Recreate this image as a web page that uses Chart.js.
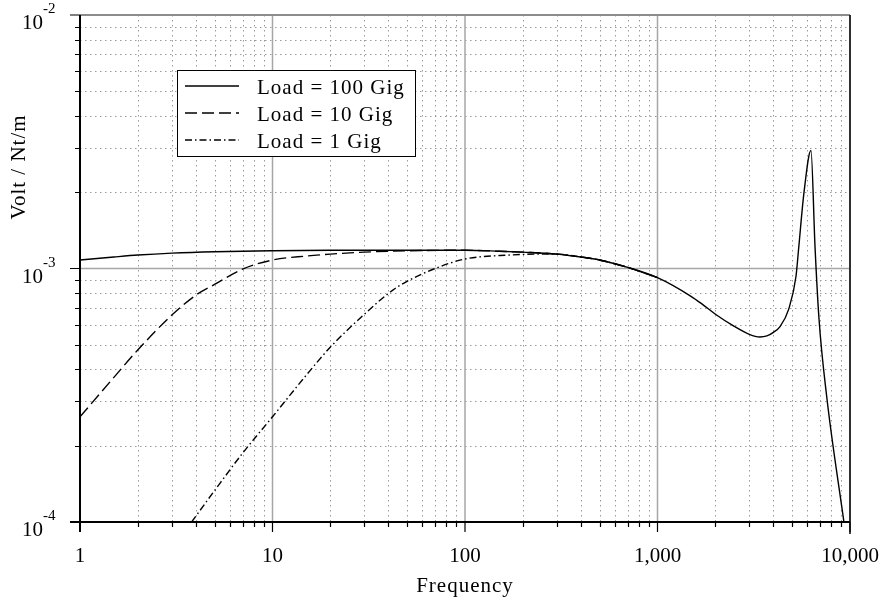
<!DOCTYPE html>
<html lang="en">
<head>
    <meta charset="UTF-8">
    <title>Volt / Nt/m vs Frequency</title>
    <script src="https://cdn.jsdelivr.net/npm/chart.js"></script>
    <style>
        html, body { margin: 0; padding: 0; background: #fff; }
        #wrap { width: 886px; height: 598px; }
    </style>
</head>
<body>
<div id="wrap"><canvas id="respChart" width="886" height="598"></canvas></div>
<script>
    // Load = 100 Gig
    const freq100 = [1, 1.5, 2, 3, 5, 10, 20, 50, 100, 150, 200, 300, 400, 500, 700, 1000, 1500, 1700, 2000, 2470, 3000, 3400, 3700, 4000, 4330, 4800, 5240, 5400, 5770, 6270, 6580, 6900, 7570, 9300];
    const volt100 = [1.08e-3, 1.11e-3, 1.13e-3, 1.15e-3, 1.165e-3, 1.175e-3, 1.18e-3, 1.18e-3, 1.18e-3, 1.17e-3, 1.16e-3, 1.14e-3, 1.11e-3, 1.08e-3, 1.01e-3, 9.2e-4, 7.75e-4, 7.25e-4, 6.6e-4, 5.95e-4, 5.5e-4, 5.37e-4, 5.42e-4, 5.6e-4, 5.9e-4, 6.9e-4, 9.3e-4, 1.18e-3, 2.0e-3, 2.92e-3, 1.22e-3, 6.35e-4, 3.12e-4, 1.0e-4];

    // Load = 10 Gig
    const freq10 = [1, 1.5, 2, 3, 4, 5, 7, 10, 15, 20, 30, 50, 100, 150, 200, 300, 400, 500, 700, 1000];
    const volt10 = [2.6e-4, 3.72e-4, 4.78e-4, 6.55e-4, 7.85e-4, 8.65e-4, 9.95e-4, 1.08e-3, 1.12e-3, 1.14e-3, 1.16e-3, 1.175e-3, 1.18e-3, 1.17e-3, 1.16e-3, 1.14e-3, 1.11e-3, 1.08e-3, 1.01e-3, 9.2e-4];

    // Load = 1 Gig
    const freq1 = [3.8, 5, 7, 10, 15, 20, 30, 42, 50, 70, 100, 170, 250, 300, 400, 500, 700, 1000];
    const volt1 = [1.0e-4, 1.33e-4, 1.87e-4, 2.6e-4, 3.8e-4, 4.9e-4, 6.6e-4, 8.2e-4, 8.9e-4, 1.0e-3, 1.09e-3, 1.13e-3, 1.14e-3, 1.14e-3, 1.11e-3, 1.08e-3, 1.01e-3, 9.2e-4];

    const seriesNames = ['Load = 100 Gig', 'Load = 10 Gig', 'Load = 1 Gig'];
    const xTickValues = [1, 10, 100, 1000, 10000];
    const xTickLabels = ['1', '10', '100', '1,000', '10,000'];
    const yTickValues = [1e-4, 1e-3, 1e-2];
    const yTickExps = ['-4', '-3', '-2'];

    const FONT = '"Liberation Serif", "Times New Roman", serif';
    const dashes = [[], [12, 5], [7, 3, 1.5, 3]];

    function toPoints(xs, ys) {
        return xs.map((f, i) => ({ x: f, y: ys[i] }));
    }

    // grid, axes, labels and legend drawn off the chart's own scales
    const paperPlugin = {
        id: 'paper',
        beforeDatasetsDraw(chart) {
            const { ctx, chartArea: a, scales: { x, y } } = chart;
            ctx.save();
            // minor dotted grid
            ctx.strokeStyle = '#9a9a9a';
            ctx.lineWidth = 1;
            ctx.setLineDash([1.5, 3.5]);
            ctx.beginPath();
            for (let d = 1; d < 10000; d *= 10) {
                for (let m = 2; m <= 9; m++) {
                    const px = Math.round(x.getPixelForValue(m * d)) + 0.5;
                    ctx.moveTo(px, a.top); ctx.lineTo(px, a.bottom);
                }
            }
            for (let d = 1e-4; d < 1e-2 * 0.99; d *= 10) {
                for (let m = 2; m <= 9; m++) {
                    const py = Math.round(y.getPixelForValue(m * d)) + 0.5;
                    ctx.moveTo(a.left, py); ctx.lineTo(a.right, py);
                }
            }
            ctx.stroke();
            // major solid grid
            ctx.setLineDash([]);
            ctx.strokeStyle = '#a6a6a6';
            ctx.lineWidth = 1.5;
            ctx.beginPath();
            xTickValues.forEach(v => {
                const px = x.getPixelForValue(v);
                ctx.moveTo(px, a.top); ctx.lineTo(px, a.bottom);
            });
            yTickValues.forEach(v => {
                const py = y.getPixelForValue(v);
                ctx.moveTo(a.left, py); ctx.lineTo(a.right, py);
            });
            ctx.stroke();
            ctx.restore();
        },
        afterDraw(chart) {
            const { ctx, chartArea: a, scales: { x, y } } = chart;
            ctx.save();
            // frame
            ctx.strokeStyle = '#8c8c8c';
            ctx.lineWidth = 2;
            ctx.beginPath(); ctx.moveTo(a.left, a.top); ctx.lineTo(a.right, a.top); ctx.stroke();
            ctx.strokeStyle = '#000';
            ctx.beginPath();
            ctx.moveTo(a.left, a.top); ctx.lineTo(a.left, a.bottom + 10);
            ctx.moveTo(a.left - 10, a.bottom); ctx.lineTo(a.right, a.bottom);
            ctx.stroke();
            ctx.lineWidth = 1.5;
            ctx.beginPath(); ctx.moveTo(a.right, a.top); ctx.lineTo(a.right, a.bottom + 12); ctx.stroke();

            // ticks
            ctx.lineWidth = 1.2;
            ctx.beginPath();
            for (let d = 1; d < 10000; d *= 10) {
                for (let m = 2; m <= 9; m++) {
                    const px = Math.round(x.getPixelForValue(m * d)) + 0.5;
                    ctx.moveTo(px, a.bottom); ctx.lineTo(px, a.bottom + 5);
                }
            }
            for (let d = 1e-4; d < 1e-2 * 0.99; d *= 10) {
                for (let m = 2; m <= 9; m++) {
                    const py = Math.round(y.getPixelForValue(m * d)) + 0.5;
                    ctx.moveTo(a.left - 5, py); ctx.lineTo(a.left, py);
                }
            }
            xTickValues.forEach(v => {
                const px = x.getPixelForValue(v);
                ctx.moveTo(px, a.bottom); ctx.lineTo(px, a.bottom + 10);
            });
            yTickValues.forEach(v => {
                const py = y.getPixelForValue(v);
                ctx.moveTo(a.left - 10, py); ctx.lineTo(a.left, py);
            });
            ctx.stroke();

            // tick labels
            ctx.fillStyle = '#000';
            ctx.font = '21px ' + FONT;
            ctx.textAlign = 'center';
            ctx.textBaseline = 'alphabetic';
            xTickValues.forEach((v, i) => {
                ctx.fillText(xTickLabels[i], x.getPixelForValue(v), a.bottom + 40);
            });
            yTickValues.forEach((v, i) => {
                const py = y.getPixelForValue(v);
                ctx.font = '15px ' + FONT;
                ctx.textAlign = 'left';
                ctx.fillText(yTickExps[i], 43, py - 2);
                ctx.font = '21px ' + FONT;
                ctx.textAlign = 'right';
                ctx.fillText('10', 43, py + 14);
            });

            // axis titles
            ctx.letterSpacing = '1px';
            ctx.font = '21px ' + FONT;
            ctx.textAlign = 'center';
            ctx.fillText('Frequency', (a.left + a.right) / 2, 592);
            ctx.save();
            ctx.translate(25, 167);
            ctx.rotate(-Math.PI / 2);
            ctx.fillText('Volt / Nt/m', 0, 0);
            ctx.restore();

            // legend
            ctx.fillStyle = '#fff';
            ctx.fillRect(177.5, 70.5, 238, 86);
            ctx.strokeStyle = '#000';
            ctx.lineWidth = 1;
            ctx.strokeRect(177.5, 70.5, 238, 86);
            const rowY = [86, 113, 140];
            ctx.textAlign = 'left';
            ctx.fillStyle = '#000';
            chart.data.datasets.forEach((ds, i) => {
                ctx.setLineDash(ds.borderDash);
                ctx.lineWidth = 1.3;
                ctx.beginPath();
                ctx.moveTo(185, rowY[i]); ctx.lineTo(239, rowY[i]);
                ctx.stroke();
                ctx.setLineDash([]);
                ctx.fillText(ds.label, 257, rowY[i] + 7.5);
            });
            ctx.restore();
        }
    };

    const seriesData = [toPoints(freq100, volt100), toPoints(freq10, volt10), toPoints(freq1, volt1)];

    new Chart(document.getElementById('respChart'), {
        type: 'line',
        data: {
            datasets: seriesNames.map((name, i) => ({
                label: name,
                data: seriesData[i],
                borderColor: '#000',
                borderWidth: 1.4,
                borderDash: dashes[i],
                pointRadius: 0,
                cubicInterpolationMode: 'monotone',
                fill: false
            }))
        },
        options: {
            responsive: false,
            animation: false,
            devicePixelRatio: 1,
            layout: { padding: { left: 80, top: 15, right: 36, bottom: 76 } },
            scales: {
                x: { type: 'logarithmic', min: 1, max: 10000, display: false },
                y: { type: 'logarithmic', min: 1e-4, max: 1e-2, display: false }
            },
            plugins: {
                legend: { display: false },
                tooltip: { enabled: false }
            }
        },
        plugins: [paperPlugin]
    });
</script>
</body>
</html>
